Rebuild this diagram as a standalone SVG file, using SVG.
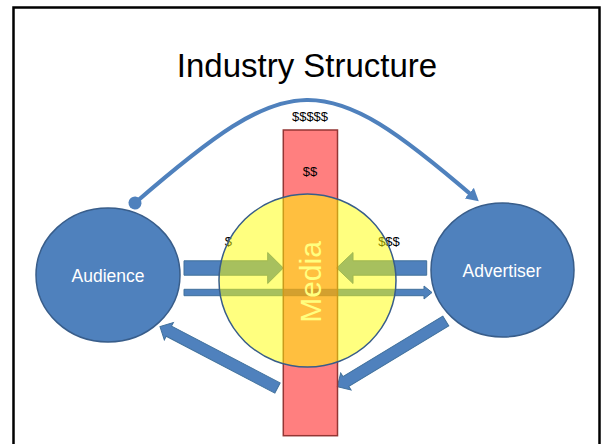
<svg xmlns="http://www.w3.org/2000/svg" width="602" height="444" viewBox="0 0 602 444">
  <style>
    .frame { fill: #ffffff; stroke: #000000; stroke-width: 2.5; }
    .title { font-family: "Liberation Sans", Arial, sans-serif; font-size: 33px; fill: #000000; text-anchor: middle; }
    .party { fill: #4F81BD; stroke: #385D8A; stroke-width: 1.5; }
    .party-label { font-family: "Liberation Sans", Arial, sans-serif; font-size: 17.5px; fill: #ffffff; text-anchor: middle; }
    .money { font-family: "Liberation Sans", Arial, sans-serif; font-size: 13px; fill: #000000; text-anchor: middle; }
    .block { fill: #4F81BD; stroke: #41719C; stroke-width: 1; }
    .flow { fill: none; stroke: #4F81BD; stroke-width: 4.2; }
    .channel { fill: #FF0000; fill-opacity: 0.5; stroke: #943634; stroke-width: 1.5; }
    .media-label { font-family: "Liberation Sans", Arial, sans-serif; font-size: 30px; fill: #ffffff; text-anchor: middle; }
    .media { fill: #FFFF00; fill-opacity: 0.5; stroke: #385D8A; stroke-width: 1.5; }
  </style>
  <defs>
    <marker id="dot" markerUnits="userSpaceOnUse" viewBox="0 0 14 14" markerWidth="14" markerHeight="14" refX="7" refY="7" orient="auto">
      <circle cx="7" cy="7" r="6.5" fill="#4F81BD"/>
    </marker>
    <marker id="head" markerUnits="userSpaceOnUse" viewBox="0 0 12.5 14" markerWidth="12.5" markerHeight="14" refX="7.5" refY="7" orient="auto">
      <path d="M0,0 L12.5,7 L0,14 z" fill="#4F81BD"/>
    </marker>
  </defs>

  <!-- slide frame -->
  <rect class="frame" x="13.5" y="7.5" width="586" height="450"/>

  <text class="title" x="307" y="77">Industry Structure</text>

  <!-- connectors -->
  <g id="connectors">
    <!-- money from audience to advertiser, over the top -->
    <path class="flow" d="M135,203 C292,67 322,66 475,198" marker-start="url(#dot)" marker-end="url(#head)"/>
    <!-- audience -> media (wide) -->
    <path class="block" d="M184,260.8 L267.7,260.8 L267.7,252.5 L283.3,268 L267.7,283.5 L267.7,275.2 L184,275.2 z"/>
    <!-- advertiser -> media (wide) -->
    <path class="block" d="M426.7,260.8 L353,260.8 L353,252.5 L336.7,268 L353,283.5 L353,275.2 L426.7,275.2 z"/>
    <!-- audience -> advertiser (thin) -->
    <path class="block" d="M184,289.3 L424,289.3 L424,286 L432,292.5 L424,299 L424,295.7 L184,295.7 z"/>
    <!-- media -> audience -->
    <path class="block" transform="translate(277.5,388) rotate(207.6)" d="M0,-5.75 L122.6,-5.75 L122.6,-9.8 L132.6,0 L122.6,9.8 L122.6,5.75 L0,5.75 z"/>
    <!-- advertiser -> media -->
    <path class="block" transform="translate(445.8,321) rotate(148.8)" d="M0,-5.75 L116.8,-5.75 L116.8,-10 L126.8,0 L116.8,10 L116.8,5.75 L0,5.75 z"/>
  </g>

  <g id="money-labels">
    <text class="money" x="310" y="121">$$$$$</text>
    <text class="money" x="228.4" y="246">$</text>
    <text class="money" x="389" y="246">$$$</text>
  </g>

  <g id="audience">
    <ellipse class="party" cx="108" cy="275" rx="72" ry="67"/>
    <text class="party-label" x="108" y="281.5">Audience</text>
  </g>

  <g id="advertiser">
    <ellipse class="party" cx="502.5" cy="270" rx="71.5" ry="67"/>
    <text class="party-label" x="502" y="276.5">Advertiser</text>
  </g>

  <g id="channel">
    <rect class="channel" x="283.3" y="130" width="54.2" height="305.7"/>
    <text class="money" x="310" y="175.5">$$</text>
    <text class="media-label" transform="translate(321.3,282) rotate(-90)" x="0" y="0">Media</text>
  </g>

  <g id="media">
    <ellipse class="media" cx="307.5" cy="280.5" rx="88.5" ry="86.5"/>
  </g>
</svg>
